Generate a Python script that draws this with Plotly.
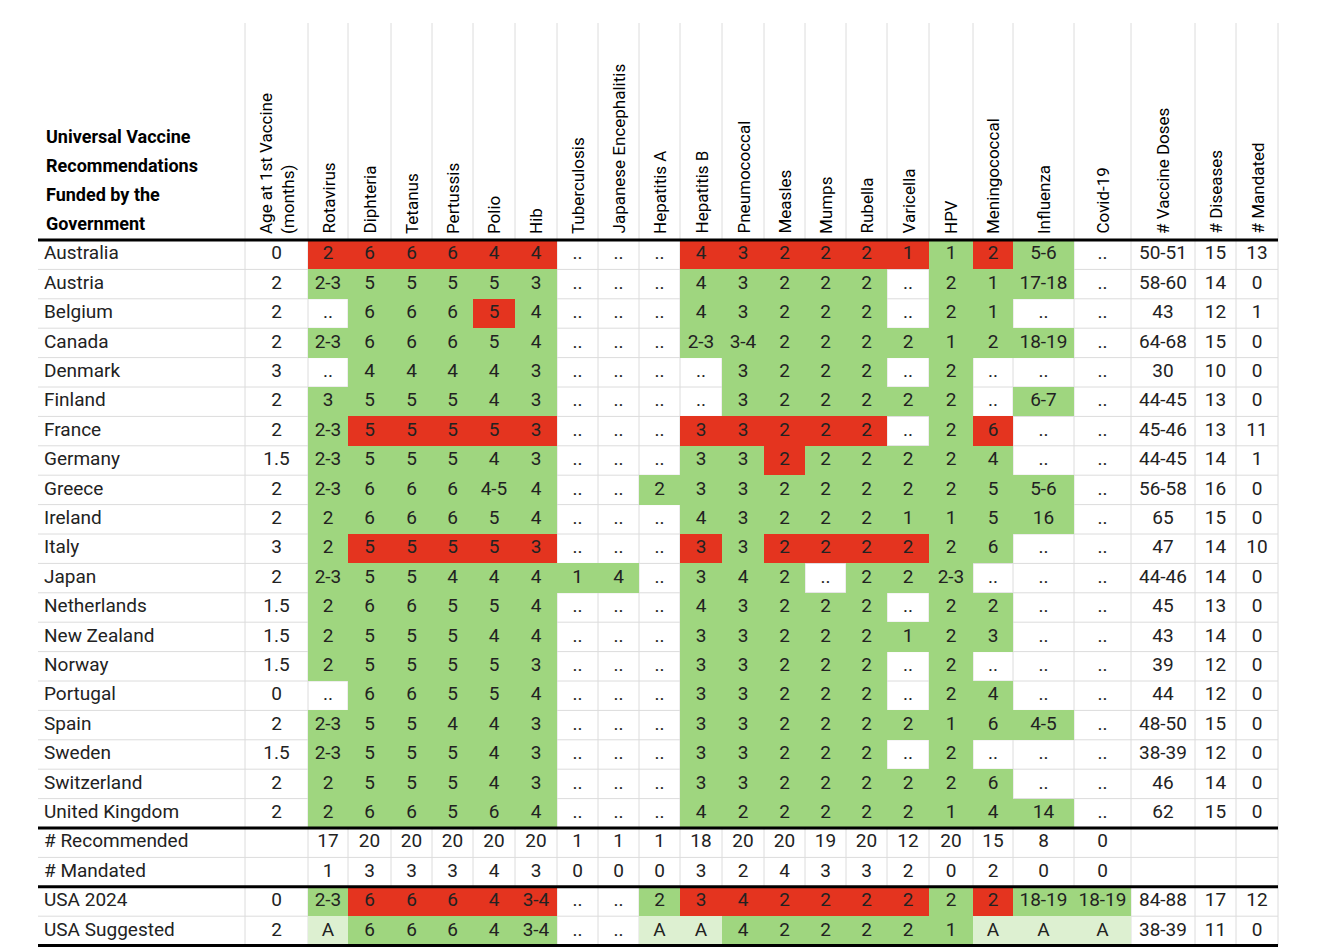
import plotly.graph_objects as go

# ---- data ----
countries = ["Australia", "Austria", "Belgium", "Canada", "Denmark", "Finland", "France",
             "Germany", "Greece", "Ireland", "Italy", "Japan", "Netherlands", "New Zealand",
             "Norway", "Portugal", "Spain", "Sweden", "Switzerland", "United Kingdom",
             "# Recommended", "# Mandated", "USA 2024", "USA Suggested"]

vaccines = ["Rotavirus", "Diphteria", "Tetanus", "Pertussis", "Polio", "Hib", "Tuberculosis",
            "Japanese Encephalitis", "Hepatitis A", "Hepatitis B", "Pneumococcal", "Measles",
            "Mumps", "Rubella", "Varicella", "HPV", "Meningococcal", "Influenza", "Covid-19"]

age_first = ["0", "2", "2", "2", "3", "2", "2", "1.5", "2", "2", "3", "2", "1.5", "1.5",
             "1.5", "0", "2", "1.5", "2", "2", "", "", "0", "2"]

doses = ["2 6 6 6 4 4 .. .. .. 4 3 2 2 2 1 1 2 5-6 ..",
         "2-3 5 5 5 5 3 .. .. .. 4 3 2 2 2 .. 2 1 17-18 ..",
         ".. 6 6 6 5 4 .. .. .. 4 3 2 2 2 .. 2 1 .. ..",
         "2-3 6 6 6 5 4 .. .. .. 2-3 3-4 2 2 2 2 1 2 18-19 ..",
         ".. 4 4 4 4 3 .. .. .. .. 3 2 2 2 .. 2 .. .. ..",
         "3 5 5 5 4 3 .. .. .. .. 3 2 2 2 2 2 .. 6-7 ..",
         "2-3 5 5 5 5 3 .. .. .. 3 3 2 2 2 .. 2 6 .. ..",
         "2-3 5 5 5 4 3 .. .. .. 3 3 2 2 2 2 2 4 .. ..",
         "2-3 6 6 6 4-5 4 .. .. 2 3 3 2 2 2 2 2 5 5-6 ..",
         "2 6 6 6 5 4 .. .. .. 4 3 2 2 2 1 1 5 16 ..",
         "2 5 5 5 5 3 .. .. .. 3 3 2 2 2 2 2 6 .. ..",
         "2-3 5 5 4 4 4 1 4 .. 3 4 2 .. 2 2 2-3 .. .. ..",
         "2 6 6 5 5 4 .. .. .. 4 3 2 2 2 .. 2 2 .. ..",
         "2 5 5 5 4 4 .. .. .. 3 3 2 2 2 1 2 3 .. ..",
         "2 5 5 5 5 3 .. .. .. 3 3 2 2 2 .. 2 .. .. ..",
         ".. 6 6 5 5 4 .. .. .. 3 3 2 2 2 .. 2 4 .. ..",
         "2-3 5 5 4 4 3 .. .. .. 3 3 2 2 2 2 1 6 4-5 ..",
         "2-3 5 5 5 4 3 .. .. .. 3 3 2 2 2 .. 2 .. .. ..",
         "2 5 5 5 4 3 .. .. .. 3 3 2 2 2 2 2 6 .. ..",
         "2 6 6 5 6 4 .. .. .. 4 2 2 2 2 2 1 4 14 ..",
         "17 20 20 20 20 20 1 1 1 18 20 20 19 20 12 20 15 8 0",
         "1 3 3 3 4 3 0 0 0 3 2 4 3 3 2 0 2 0 0",
         "2-3 6 6 6 4 3-4 .. .. 2 3 4 2 2 2 2 2 2 18-19 18-19",
         "A 6 6 6 4 3-4 .. .. A A 4 2 2 2 2 1 A A A"]

# W = not funded, G = recommended, R = mandated, L = suggested alternative
status = ["RRRRRRWWWRRRRRRGRGW", "GGGGGGWWWGGGGGWGGGW", "WGGGRGWWWGGGGGWGGWW",
          "GGGGGGWWWGGGGGGGGGW", "WGGGGGWWWWGGGGWGWWW", "GGGGGGWWWWGGGGGGWGW",
          "GRRRRRWWWRRRRRWGRWW", "GGGGGGWWWGGRGGGGGWW", "GGGGGGWWGGGGGGGGGGW",
          "GGGGGGWWWGGGGGGGGGW", "GRRRRRWWWRGRRRRGGWW", "GGGGGGGGWGGGWGGGWWW",
          "GGGGGGWWWGGGGGWGGWW", "GGGGGGWWWGGGGGGGGWW", "GGGGGGWWWGGGGGWGWWW",
          "WGGGGGWWWGGGGGWGGWW", "GGGGGGWWWGGGGGGGGGW", "GGGGGGWWWGGGGGWGWWW",
          "GGGGGGWWWGGGGGGGGWW", "GGGGGGWWWGGGGGGGGGW", "WWWWWWWWWWWWWWWWWWW",
          "WWWWWWWWWWWWWWWWWWW", "GRRRRRWWGRRRRRRGRGG", "LGGGGGWWLLGGGGGGLLL"]

vaccine_doses = ["50-51", "58-60", "43", "64-68", "30", "44-45", "45-46", "44-45", "56-58",
                 "65", "47", "44-46", "45", "43", "39", "44", "48-50", "38-39", "46", "62",
                 "", "", "84-88", "38-39"]
n_diseases = ["15", "14", "12", "15", "10", "13", "13", "14", "16", "15", "14", "14", "13",
              "14", "12", "12", "15", "12", "14", "15", "", "", "17", "11"]
n_mandated = ["13", "0", "1", "0", "0", "0", "11", "1", "0", "0", "10", "0", "0", "0", "0",
              "0", "0", "0", "0", "0", "", "", "12", "0"]

title_lines = ["Universal Vaccine", "Recommendations", "Funded by the", "Government"]

# ---- layout geometry (pixels) ----
col_edges = [237, 300, 340, 383, 424, 465, 507, 549, 590, 631, 672, 714, 756, 797, 838, 879,
             921, 965, 1005, 1066, 1123, 1187, 1228, 1270]
left, top = 30, 232
row_h = 29.4
row_edges = [top + row_h * i for i in range(len(countries) + 1)]
row_mid = [(row_edges[i] + row_edges[i + 1]) / 2 for i in range(len(countries))]
col_mid = [(col_edges[i] + col_edges[i + 1]) / 2 for i in range(len(col_edges) - 1)]

code = {"W": 0, "G": 1, "R": 2, "L": 3}
z = [[code[c] for c in s] for s in status]

WHITE = "rgba(0,0,0,0)"
GREEN = "#9fd67f"
RED = "#e4341f"
LIGHT = "#ddf0d1"
cscale = [[0, WHITE], [0.25, WHITE], [0.25, GREEN], [0.5, GREEN],
          [0.5, RED], [0.75, RED], [0.75, LIGHT], [1, LIGHT]]

FONT = "Liberation Sans Narrow, Roboto, sans-serif"

fig = go.Figure()
fig.add_trace(go.Heatmap(z=z, x=col_edges[1:21], y=row_edges, colorscale=cscale,
                         zmin=0, zmax=3, showscale=False, hoverinfo="skip"))

# cell texts
xs, ys, ts = [], [], []
for i in range(len(countries)):
    cells = [age_first[i]] + doses[i].split() + [vaccine_doses[i], n_diseases[i], n_mandated[i]]
    for j, t in enumerate(cells):
        xs.append(col_mid[j])
        ys.append(row_mid[i])
        ts.append(t)
fig.add_trace(go.Scatter(x=xs, y=ys, text=ts, mode="text", textposition="middle center",
                         textfont=dict(family=FONT, size=19, color="#222"), hoverinfo="skip"))
fig.add_trace(go.Scatter(x=[36] * len(countries), y=row_mid, text=countries, mode="text",
                         textposition="middle right",
                         textfont=dict(family=FONT, size=19, color="#222"), hoverinfo="skip"))

# gridlines
shapes = []
grey = dict(color="#dcdcdc", width=1)
for x in col_edges:
    shapes.append(dict(type="line", x0=x, x1=x, y0=15, y1=row_edges[-1], line=grey, layer="below"))
for y in row_edges:
    shapes.append(dict(type="line", x0=left, x1=col_edges[-1], y0=y, y1=y, line=grey, layer="below"))
for k in [0, 20, 22, 24]:
    shapes.append(dict(type="line", x0=left, x1=col_edges[-1], y0=row_edges[k], y1=row_edges[k],
                       line=dict(color="black", width=3)))

# headers
annotations = []
headers = ["Age at 1st Vaccine<br>(months)"] + vaccines + ["# Vaccine Doses", "# Diseases", "# Mandated"]
for j, h in enumerate(headers):
    annotations.append(dict(x=col_mid[j], y=top - 4, text=h, showarrow=False, textangle=-90,
                            xanchor="center", yanchor="bottom", align="left",
                            font=dict(family=FONT, size=17, color="black")))
for k, line in enumerate(title_lines):
    annotations.append(dict(x=36, y=128 + 29 * k, text="<b>" + line + "</b>", showarrow=False,
                            xanchor="left", yanchor="middle",
                            font=dict(family=FONT, size=18, color="black")))

fig.update_layout(width=1330, height=950, margin=dict(l=0, r=0, t=0, b=0),
                  plot_bgcolor="white", paper_bgcolor="white", showlegend=False,
                  shapes=shapes, annotations=annotations,
                  xaxis=dict(range=[0, 1330], visible=False, fixedrange=True),
                  yaxis=dict(range=[950, 0], visible=False, fixedrange=True))
fig.write_html("out.html")
